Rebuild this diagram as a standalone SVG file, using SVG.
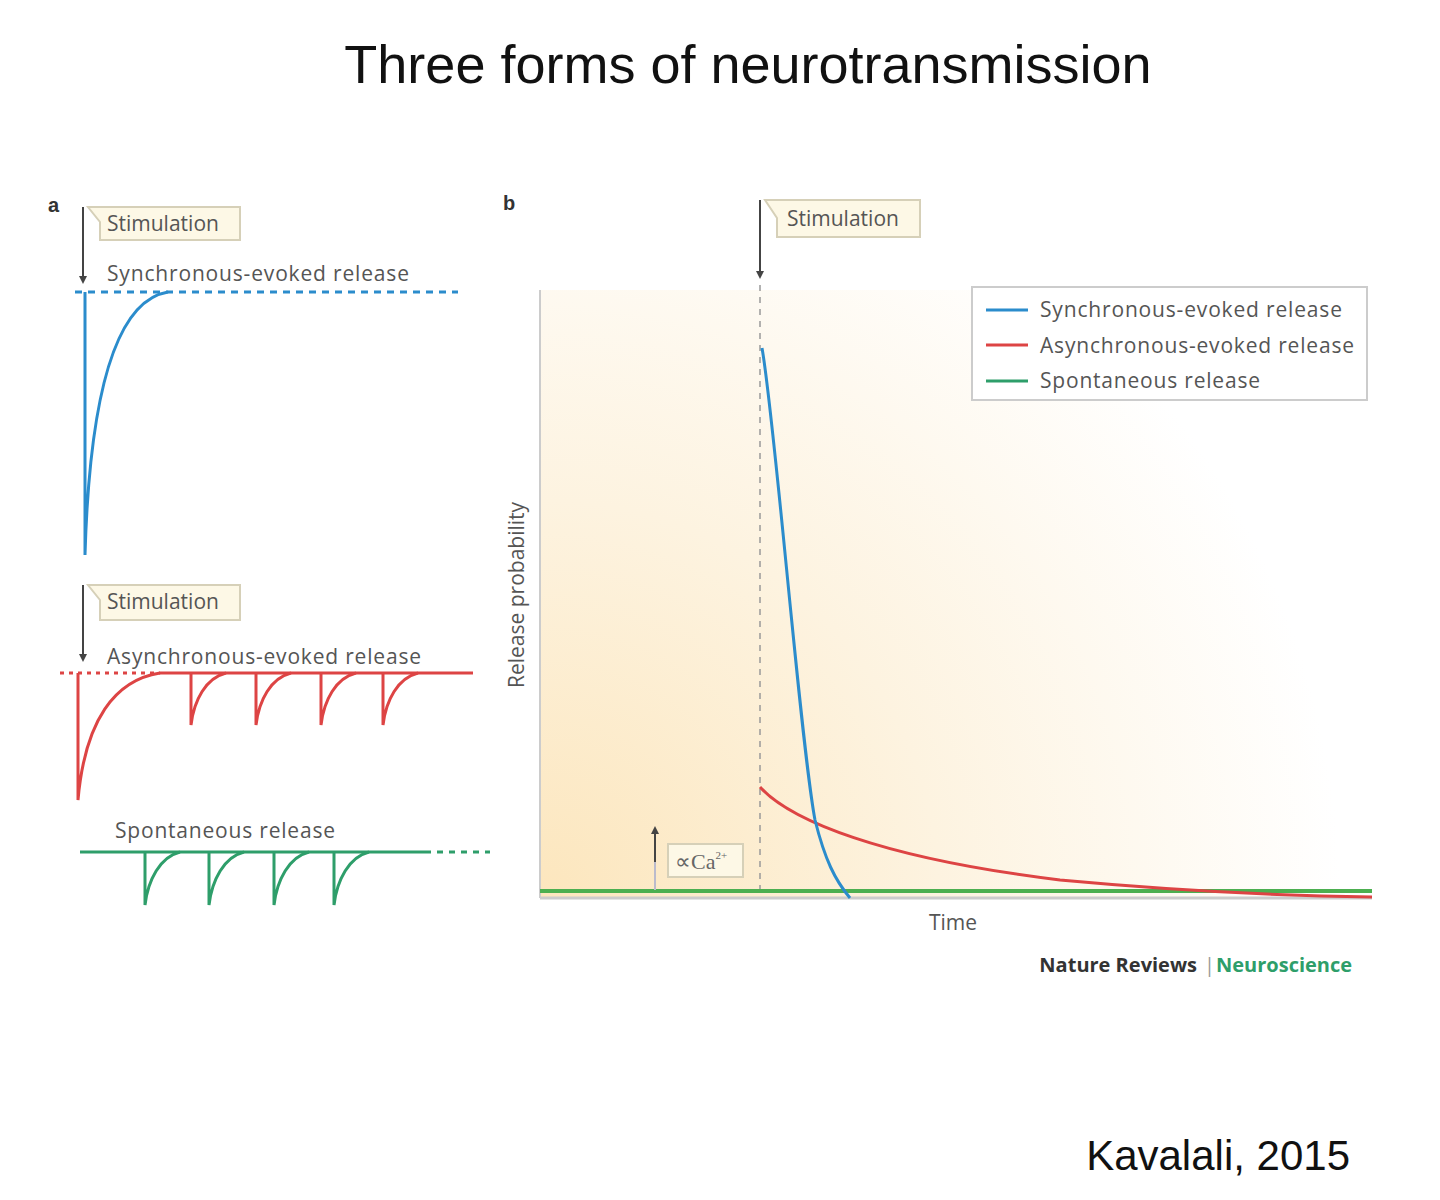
<svg xmlns="http://www.w3.org/2000/svg" width="1440" height="1200" viewBox="0 0 1440 1200">
<style>
.t{font-family:"Liberation Sans",Arial,sans-serif;fill:#444}
.lab{font-family:"Open Sans","Liberation Sans",sans-serif;font-size:21px;fill:#555}
.box{fill:#fdf8e6;stroke:#d6d0b8;stroke-width:2}
.ar{stroke:#444;stroke-width:2;fill:none;marker-end:url(#ah)}
.b{stroke:#2b8ccc;stroke-width:3;fill:none}
.r{stroke:#dd4444;stroke-width:3;fill:none}
.g{stroke:#2e9e6a;stroke-width:3;fill:none}
</style>
<defs>
<marker id="ah" markerWidth="8" markerHeight="8" refX="6" refY="4" orient="auto" markerUnits="userSpaceOnUse"><path d="M0,0 L8,4 L0,8 z" fill="#444"/></marker>
<radialGradient id="bg" cx="540" cy="900" r="800" gradientUnits="userSpaceOnUse">
<stop offset="0" stop-color="#fce6bd"/><stop offset="0.5" stop-color="#fdf3e0"/><stop offset="1" stop-color="#ffffff"/></radialGradient>
</defs>
<rect width="1440" height="1200" fill="#fff"/>
<text x="748" y="83" text-anchor="middle" font-family="Liberation Sans,Arial,sans-serif" font-size="54" fill="#111">Three forms of neurotransmission</text>
<text x="1350" y="1170" text-anchor="end" font-family="Liberation Sans,Arial,sans-serif" font-size="42" fill="#111">Kavalali, 2015</text>

<g id="panel-a">
<text x="48" y="212" font-family="Liberation Sans,sans-serif" font-weight="bold" font-size="20" fill="#333">a</text>
<line class="ar" x1="83" y1="207" x2="83" y2="282"/>
<path class="box" d="M100,207 H240 V240 H100 V222 L88,207 Z"/>
<text class="lab" x="107" y="231">Stimulation</text>
<text class="lab" x="107" y="281" textLength="302">Synchronous-evoked release</text>
<line x1="75" y1="292" x2="458" y2="292" stroke="#2b8ccc" stroke-width="3" stroke-dasharray="7,6"/>
<path class="b" d="M85,292 L85,555 C90,380 120,300 168,292"/>

<line class="ar" x1="83" y1="585" x2="83" y2="660"/>
<path class="box" d="M100,585 H240 V620 H100 V600 L88,585 Z"/>
<text class="lab" x="107" y="609">Stimulation</text>
<text class="lab" x="107" y="664" textLength="314">Asynchronous-evoked release</text>
<line x1="60" y1="673" x2="160" y2="673" stroke="#dd4444" stroke-width="3" stroke-dasharray="4,5"/>
<line class="r" x1="160" y1="673" x2="473" y2="673"/>
<path class="r" d="M78,673 L78,800 C85,720 115,680 160,673"/>
<path class="r" d="M191,673 L191,725 C194,700 206,678 226,673"/>
<path class="r" d="M256,673 L256,725 C259,700 271,678 291,673"/>
<path class="r" d="M321,673 L321,725 C324,700 336,678 356,673"/>
<path class="r" d="M383,673 L383,725 C386,700 398,678 418,673"/>

<text class="lab" x="115" y="838" textLength="220">Spontaneous release</text>
<line class="g" x1="80" y1="852" x2="425" y2="852"/>
<line x1="425" y1="852" x2="490" y2="852" stroke="#2e9e6a" stroke-width="3" stroke-dasharray="6,6"/>
<path class="g" d="M145,852 L145,905 C148,880 160,857 180,852"/>
<path class="g" d="M209,852 L209,905 C212,880 224,857 244,852"/>
<path class="g" d="M274,852 L274,905 C277,880 289,857 309,852"/>
<path class="g" d="M334,852 L334,905 C337,880 349,857 369,852"/>
</g>

<g id="panel-b">
<text x="503" y="210" font-family="Liberation Sans,sans-serif" font-weight="bold" font-size="20" fill="#333">b</text>
<rect x="540" y="290" width="832" height="608" fill="url(#bg)"/>
<line x1="540" y1="290" x2="540" y2="898" stroke="#ccc" stroke-width="2"/>
<line x1="540" y1="898" x2="1372" y2="898" stroke="#ccc" stroke-width="3"/>
<line x1="760" y1="285" x2="760" y2="892" stroke="#999" stroke-width="1.5" stroke-dasharray="6,6"/>
<line class="ar" x1="760" y1="200" x2="760" y2="277"/>
<path class="box" d="M777,200 H920 V237 H777 V218 L765,200 Z"/>
<text class="lab" x="787" y="226">Stimulation</text>
<text class="lab" transform="translate(524,595) rotate(-90)" text-anchor="middle">Release probability</text>
<text class="lab" x="953" y="930" text-anchor="middle">Time</text>
<line x1="540" y1="891" x2="1372" y2="891" stroke="#4caf50" stroke-width="4"/>
<path class="r" d="M760,787 C790,820 880,858 1060,880 C1200,893 1300,896 1372,897"/>
<path class="b" d="M762,348 C775,420 800,740 815,820 C825,860 835,880 850,898"/>
<line x1="655" y1="890" x2="655" y2="860" stroke="#bbc" stroke-width="2"/>
<line class="ar" x1="655" y1="862" x2="655" y2="828"/>
<rect class="box" x="668" y="844" width="75" height="33"/>
<text x="675" y="869" font-family="Liberation Serif,serif" font-size="22" fill="#666">∝Ca<tspan font-size="11" dy="-10">2+</tspan></text>
<rect x="972" y="287" width="395" height="113" fill="#fff" stroke="#ccc" stroke-width="2"/>
<line class="b" x1="986" y1="310" x2="1028" y2="310"/>
<line class="r" x1="986" y1="345" x2="1028" y2="345"/>
<line class="g" x1="986" y1="381" x2="1028" y2="381"/>
<text class="lab" x="1040" y="317" textLength="302">Synchronous-evoked release</text>
<text class="lab" x="1040" y="353" textLength="314">Asynchronous-evoked release</text>
<text class="lab" x="1040" y="388" textLength="220">Spontaneous release</text>
<text x="1197" y="972" text-anchor="end" font-family="Open Sans,Liberation Sans,sans-serif" font-weight="bold" font-size="20" fill="#333">Nature Reviews</text>
<text x="1204" y="972" font-family="Open Sans,Liberation Sans,sans-serif" font-size="20" fill="#999">|</text>
<text x="1216" y="972" font-family="Open Sans,Liberation Sans,sans-serif" font-weight="bold" font-size="20" fill="#2e9e6a">Neuroscience</text>
</g>
</svg>
